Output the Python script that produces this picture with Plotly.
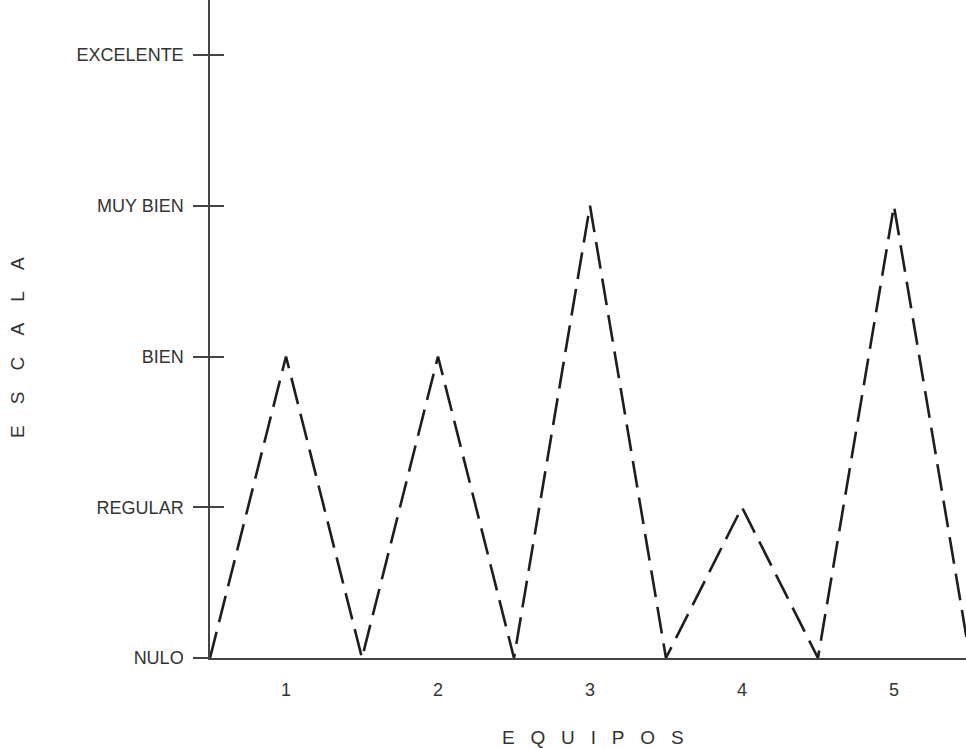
import plotly.graph_objects as go

# Data
equipos_x = [0.5, 1, 1.5, 2, 2.5, 3, 3.5, 4, 4.5, 5, 5.5]
escala_y = [0, 2, 0, 2, 0, 3, 0, 1, 0, 3, 0]
y_tickvals = [0, 1, 2, 3, 4]
y_ticktext = ["NULO", "REGULAR", "BIEN", "MUY BIEN", "EXCELENTE"]
x_tickvals = [1, 2, 3, 4, 5]
x_ticktext = ["1", "2", "3", "4", "5"]

FONT = "Liberation Sans, Arial, Helvetica, sans-serif"
NB = "\u00a0"

fig = go.Figure()
fig.add_trace(go.Scatter(
    x=equipos_x, y=escala_y, mode="lines",
    line=dict(color="#1e1e1e", width=2.6, dash="27px,10px"),
    showlegend=False, hoverinfo="skip",
))

fig.update_layout(
    width=966, height=748,
    margin=dict(l=210, r=0, t=0, b=90, pad=0),
    paper_bgcolor="white", plot_bgcolor="white",
    font=dict(family=FONT, color="#333333"),
    xaxis=dict(
        range=[0.5, 5.474], showgrid=False, zeroline=False,
        showline=True, linecolor="#444444", linewidth=1.5,
        tickmode="array", tickvals=x_tickvals, ticktext=x_ticktext,
        ticks="", tickfont=dict(size=18, color="#333333"),
        ticklabelstandoff=15,
    ),
    yaxis=dict(
        range=[0, 4.365], showgrid=False, zeroline=False,
        showline=True, linecolor="#444444", linewidth=1.5,
        tickmode="array", tickvals=y_tickvals, ticktext=y_ticktext,
        ticks="outside", ticklen=15, tickwidth=1.5, tickcolor="#444444",
        tickfont=dict(size=18, color="#333333"),
        ticklabelstandoff=6,
    ),
    yaxis2=dict(
        range=[0, 4.365], overlaying="y", anchor="x", side="left",
        showgrid=False, zeroline=False, showline=False,
        tickmode="array", tickvals=y_tickvals,
        ticks="inside", ticklen=14, tickwidth=1.5, tickcolor="#444444",
        showticklabels=False,
    ),
    annotations=[
        dict(text=(NB * 3).join("EQUIPOS"), xref="paper", yref="paper",
             x=(593 - 210) / 756, y=-(737 - 658) / 658, xanchor="center", yanchor="middle",
             showarrow=False, font=dict(size=19, color="#333333", family=FONT)),
        dict(text=(NB * 4).join("ESCALA"), xref="paper", yref="paper",
             x=-(210 - 17) / 756, y=(658 - 348) / 658, xanchor="center", yanchor="middle",
             textangle=-90, showarrow=False,
             font=dict(size=19, color="#333333", family=FONT)),
    ],
)
fig.add_trace(go.Scatter(x=[None], y=[None], yaxis="y2", showlegend=False, hoverinfo="skip"))

fig.write_html("out.html", config={"displayModeBar": False})

# remove default page margin so the figure sits at the window's top-left corner
with open("out.html", "r", encoding="utf-8") as f:
    html = f.read()
html = html.replace("<head>", "<head><style>html,body{margin:0;padding:0;overflow:hidden}</style>", 1)
with open("out.html", "w", encoding="utf-8") as f:
    f.write(html)
